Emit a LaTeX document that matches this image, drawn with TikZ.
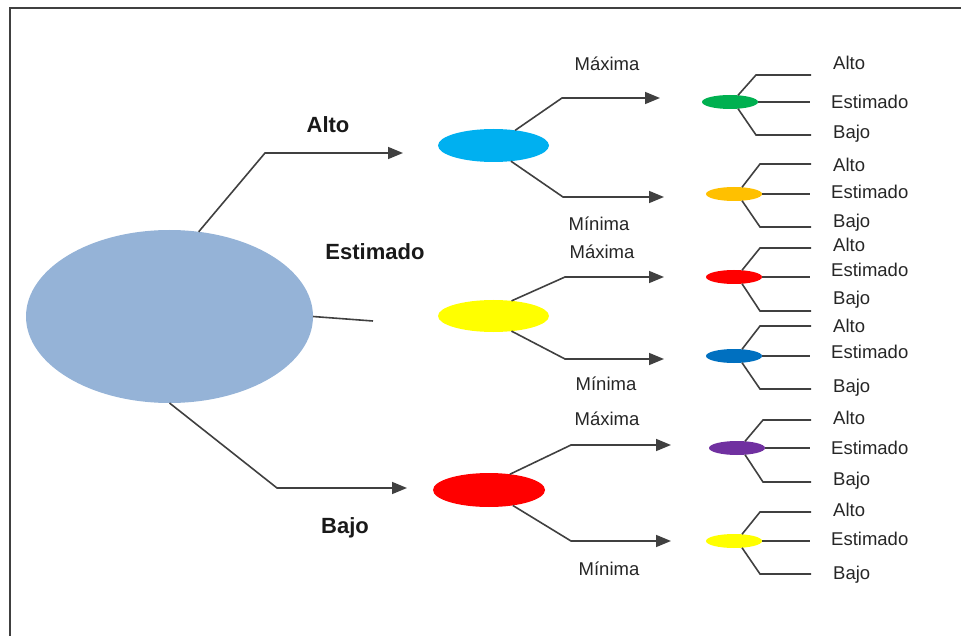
\documentclass[tikz,border=0pt]{standalone}
\usepackage{fontspec}
\setmainfont{Liberation Sans}
\usepackage{xcolor}
\usetikzlibrary{shapes.geometric,arrows.meta}

\definecolor{raizAzul}{RGB}{149,179,215}
\definecolor{celeste}{RGB}{0,176,240}
\definecolor{amarillo}{RGB}{255,255,0}
\definecolor{rojo}{RGB}{255,0,0}
\definecolor{hojaVerde}{RGB}{0,176,80}
\definecolor{hojaNaranja}{RGB}{255,192,0}
\definecolor{hojaAzul}{RGB}{0,112,192}
\definecolor{hojaMorada}{RGB}{112,48,160}
\definecolor{linea}{RGB}{64,64,64}

\tikzset{
  globo/.style={ellipse, inner sep=0pt, outer sep=0pt},
  hoja/.style={globo, minimum width=56pt, minimum height=14pt},
  rama/.style={line width=1.6pt, draw=linea},
  flecha/.style={rama, {Triangle[length=15pt,width=12pt]}-},
  txt/.style={font=\fontsize{18.5}{20}\selectfont, text=black!85, inner sep=0pt},
  txtgrande/.style={font=\bfseries\fontsize{22}{24}\selectfont, text=black!90, inner sep=0pt},
}

\begin{document}
\begin{tikzpicture}[x=1pt,y=-1pt]
    \useasboundingbox (0,0) rectangle (961,636);
    % Marco
    \draw[line width=2pt, black!75] (10,636) -- (10,8) -- (961,8);

    % Primer nivel
    \node[globo, fill=raizAzul, minimum width=287pt, minimum height=173pt] (raiz) at (169.5,316.5) {};
    \node[globo, fill=celeste, minimum width=111pt, minimum height=33pt] (alto) at (493.5,145.5) {};
    \node[globo, fill=amarillo, minimum width=111pt, minimum height=32pt] (estimado) at (493.5,316) {};
    \node[globo, fill=rojo, minimum width=112pt, minimum height=34pt] (bajo) at (489,490) {};

    \coordinate (tAlto) at (403,153);
    \coordinate (tEst) at (373,321);
    \coordinate (tBajo) at (407,488);
    \draw[flecha] (tAlto) -- ++(-138,0) -- (raiz.71);
    \draw[rama] (raiz.east) -- (tEst);
    \draw[flecha] (tBajo) -- ++(-130,0) -- (raiz.south);

    \node[txtgrande, anchor=base] (lAlto) at (328,133) {Alto};
    \node[txtgrande, anchor=base] (lEst) at (375,260) {Estimado};
    \node[txtgrande, anchor=base] (lBajo) at (345,533) {Bajo};

    % Segundo nivel
    \coordinate (altoMax) at (660,98);
    \coordinate (altoMin) at (664,197);
    \coordinate (estMax) at (664,277);
    \coordinate (estMin) at (664,359);
    \coordinate (bajoMax) at (671,445);
    \coordinate (bajoMin) at (671,541);
    \draw[flecha] (altoMax) -- ++(-98,0) -- (alto.35);
    \draw[flecha] (altoMin) -- ++(-101,0) -- (alto.-42);
    \draw[flecha] (estMax) -- ++(-99,0) -- (estimado.40);
    \draw[flecha] (estMin) -- ++(-99,0) -- (estimado.-40);
    \draw[flecha] (bajoMax) -- ++(-100,0) -- (bajo.37);
    \draw[flecha] (bajoMin) -- ++(-100,0) -- (bajo.-33);

    \node[txt, anchor=base] (lAltoMax) at (607,71) {Máxima};
    \node[txt, anchor=base] (lAltoMin) at (599,231) {Mínima};
    \node[txt, anchor=base] (lEstMax) at (602,259) {Máxima};
    \node[txt, anchor=base] (lEstMin) at (606,390) {Mínima};
    \node[txt, anchor=base] (lBajoMax) at (607,425) {Máxima};
    \node[txt, anchor=base] (lBajoMin) at (609,575) {Mínima};

    % Tercer nivel
    \foreach \n/\col/\cx/\cy/\up/\dn/\ba/\be/\bb in {
        verde/hojaVerde/730/102/75/135/70/109/139,
        naranja/hojaNaranja/734/194/164/227/172/199/228,
        rojo/rojo/734/277/248/311/252/277/305,
        azul/hojaAzul/734/356/326/389/332/358/392,
        morado/hojaMorada/737/448/420/482/424/454/485,
        amarillo/amarillo/734/541/512/574/516/545/579}
    {
        \node[hoja, fill=\col] (\n) at (\cx,\cy) {};
        \coordinate (\n-a) at (811,\up);
        \coordinate (\n-e) at (810,\cy);
        \coordinate (\n-b) at (811,\dn);
        \draw[rama] (\n.40) -- (\cx+26,\up) -- (\n-a);
        \draw[rama] (\n.east) -- (\n-e);
        \draw[rama] (\n.-40) -- (\cx+26,\dn) -- (\n-b);
        \node[txt, anchor=base west] (\n-alto) at (833,\ba) {Alto};
        \node[txt, anchor=base west] (\n-est) at (831,\be) {Estimado};
        \node[txt, anchor=base west] (\n-bajo) at (833,\bb) {Bajo};
    }
\end{tikzpicture}
\end{document}
